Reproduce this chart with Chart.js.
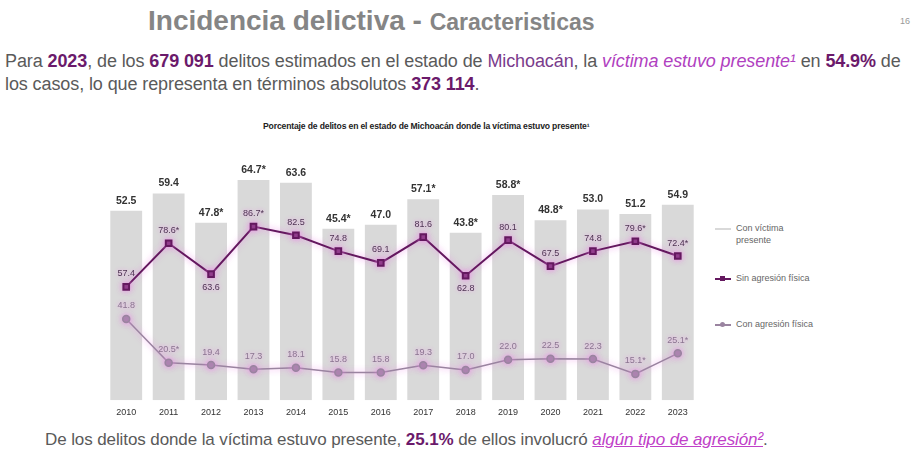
<!DOCTYPE html>
<html lang="es">
<head>
<meta charset="utf-8">
<script src="https://cdn.jsdelivr.net/npm/chart.js@4.4.1/dist/chart.umd.min.js"></script>
<style>
  html, body { margin:0; padding:0; background:#fff; }
  body { width:917px; height:456px; position:relative; overflow:hidden; font-family:"Liberation Sans", Arial, sans-serif; }
  #title { position:absolute; left:148px; top:5px; color:#858585; font-weight:bold; font-size:28px; white-space:nowrap; }
  #title .small { font-size:23px; }
  #pagenum { position:absolute; left:900px; top:16px; font-size:9px; color:#999; }
  .para { position:absolute; left:5px; font-size:18px; color:#5a5a5a; white-space:nowrap; letter-spacing:-0.1px; }
  .num { color:#6b1a6b; font-weight:bold; }
  .mich { color:#7a3c8c; }
  .ital { color:#b040c0; font-style:italic; }
  .und { color:#c040c8; font-style:italic; text-decoration:underline; }
  #sub { position:absolute; left:263px; top:121px; font-weight:bold; font-size:8.6px; color:#222; white-space:nowrap; letter-spacing:-0.15px; }
  #chartwrap { position:absolute; left:99px; top:140px; width:606px; height:290px; }
  #legend { position:absolute; left:715px; top:222px; font-size:9px; color:#666; }
  .lg { position:absolute; left:0; white-space:nowrap; }
  .lg .sw { position:absolute; left:0; width:16px; height:2px; }
  .lg .mk { position:absolute; left:5px; width:5px; height:5px; }
  .lg .tx { position:absolute; left:21px; line-height:12px; }
</style>
</head>
<body>
<div id="title">Incidencia delictiva - <span class="small">Caracteristicas</span></div>
<div id="pagenum">16</div>
<div class="para" style="top:51px">Para <span class="num">2023</span>, de los <span class="num">679 091</span> delitos estimados en el estado de <span class="mich">Michoacán</span>, la <span class="ital">víctima estuvo presente¹</span> en <span class="num">54.9%</span> de</div>
<div class="para" style="top:74px">los casos, lo que representa en términos absolutos <span class="num">373 114</span>.</div>
<div id="sub">Porcentaje de delitos en el estado de Michoacán donde la víctima estuvo presente¹</div>
<div id="chartwrap"><canvas id="c" width="606" height="290"></canvas></div>
<div id="legend"></div>
<div class="para" style="top:430px; left:45px; font-size:17px">De los delitos donde la víctima estuvo presente, <span class="num">25.1%</span> de ellos involucró <span class="und">algún tipo de agresión²</span>.</div>

<script>
// ---- Data ----
const years = ['2010','2011','2012','2013','2014','2015','2016','2017','2018','2019','2020','2021','2022','2023'];
const seriesNames = ['Con víctima presente', 'Sin agresión física', 'Con agresión física'];
const conVictima   = [52.5, 59.4, 47.8, 64.7, 63.6, 45.4, 47.0, 57.1, 43.8, 58.8, 48.8, 53.0, 51.2, 54.9];
const conVictimaSig = [false,false,true,true,false,true,false,true,true,true,true,false,false,false];
const sinAgresion  = [57.4, 78.6, 63.6, 86.7, 82.5, 74.8, 69.1, 81.6, 62.8, 80.1, 67.5, 74.8, 79.6, 72.4];
const sinAgresionSig = [false,true,false,true,false,false,false,false,false,false,false,false,true,true];
const conAgresion  = [41.8, 20.5, 19.4, 17.3, 18.1, 15.8, 15.8, 19.3, 17.0, 22.0, 22.5, 22.3, 15.1, 25.1];
const conAgresionSig = [false,true,false,false,false,false,false,false,false,false,false,false,true,true];

// ---- Style / layout constants ----
const BAR_MIN = -22.6, BAR_MAX = 78.2;
const LINE_MIN = 2.3, LINE_MAX = 125.9;
const LABEL_BELOW_UPPER = new Set(['2012','2018']);
const FONT = '"Liberation Sans",Arial,sans-serif';
const COL_BAR = '#d9d9d9', COL_UP = '#64185f', COL_LOW = '#9a84a0';

const fmt = (v, s) => v.toFixed(1) + (s ? '*' : '');

const labelPlugin = {
  id: 'valueLabels',
  afterDatasetsDraw(chart) {
    const ctx = chart.ctx;
    ctx.save();
    ctx.textAlign = 'center';
    ctx.textBaseline = 'middle';
    chart.getDatasetMeta(0).data.forEach((el, i) => {
      ctx.font = 'bold 10.5px ' + FONT;
      ctx.fillStyle = '#333';
      ctx.fillText(fmt(conVictima[i], conVictimaSig[i]), el.x, el.y - 10);
    });
    const drawLine = (idx, vals, sig, color, belowSet) => {
      chart.getDatasetMeta(idx).data.forEach((el, i) => {
        ctx.font = '9px ' + FONT;
        ctx.shadowColor = 'rgba(240,150,235,0.95)';
        ctx.shadowBlur = 4;
        ctx.fillStyle = color;
        const dy = belowSet && belowSet.has(years[i]) ? 13 : -13;
        ctx.fillText(fmt(vals[i], sig[i]), el.x, el.y + dy);
      });
    };
    drawLine(1, sinAgresion, sinAgresionSig, '#4d3352', LABEL_BELOW_UPPER);
    drawLine(2, conAgresion, conAgresionSig, '#8a7490', null);
    ctx.restore();
  }
};

const glowPlugin = {
  id: 'glow',
  beforeDatasetDraw(chart, args) {
    if (args.index === 0) return;
    chart.ctx.save();
    chart.ctx.shadowColor = 'rgba(235,130,230,0.85)';
    chart.ctx.shadowBlur = 6;
  },
  afterDatasetDraw(chart, args) {
    if (args.index === 0) return;
    chart.ctx.restore();
  }
};

new Chart(document.getElementById('c'), {
  data: {
    labels: years,
    datasets: [
      { type:'bar', label: seriesNames[0], data: conVictima, yAxisID:'yBar', base: BAR_MIN,
        backgroundColor: COL_BAR, categoryPercentage: 1, barPercentage: 0.75, order: 3 },
      { type:'line', label: seriesNames[1], data: sinAgresion, yAxisID:'yLine',
        borderColor: COL_UP, backgroundColor: COL_UP, borderWidth: 2, pointStyle:'rect', pointRadius: 4, order: 1 },
      { type:'line', label: seriesNames[2], data: conAgresion, yAxisID:'yLine',
        borderColor: COL_LOW, backgroundColor: COL_LOW, borderWidth: 1.5, pointStyle:'circle', pointRadius: 3.5, order: 2 }
    ]
  },
  options: {
    responsive: false,
    devicePixelRatio: 1,
    animation: false,
    layout: { padding: { top: 0, bottom: 5, left: 0, right: 0 } },
    plugins: { legend: { display: false }, tooltip: { enabled: false } },
    scales: {
      x: { grid: { display:false, drawTicks:false }, border: { display:false },
           ticks: { font: { size: 9, family: FONT }, color:'#333', padding: 7 } },
      yBar: { display:false, min: BAR_MIN, max: BAR_MAX },
      yLine: { display:false, min: LINE_MIN, max: LINE_MAX }
    }
  },
  plugins: [glowPlugin, labelPlugin]
});

const legendItems = [
  { name: seriesNames[0], color: COL_BAR, top: 0, marker: null },
  { name: seriesNames[1], color: COL_UP, top: 50, marker: 'rect' },
  { name: seriesNames[2], color: COL_LOW, top: 96, marker: 'circle' }
];
const lg = document.getElementById('legend');
legendItems.forEach((it, k) => {
  const d = document.createElement('div');
  d.className = 'lg';
  d.style.top = it.top + 'px';
  let text = it.name;
  if (k === 0) text = 'Con víctima<br>presente';
  d.innerHTML = '<div class="sw" style="top:6px;background:' + it.color + '"></div>' +
    (it.marker ? '<div class="mk" style="top:4px;background:' + it.color + (it.marker==='circle'?';border-radius:50%':'') + '"></div>' : '') +
    '<div class="tx" style="top:0">' + text + '</div>';
  lg.appendChild(d);
});
</script>
</body>
</html>
